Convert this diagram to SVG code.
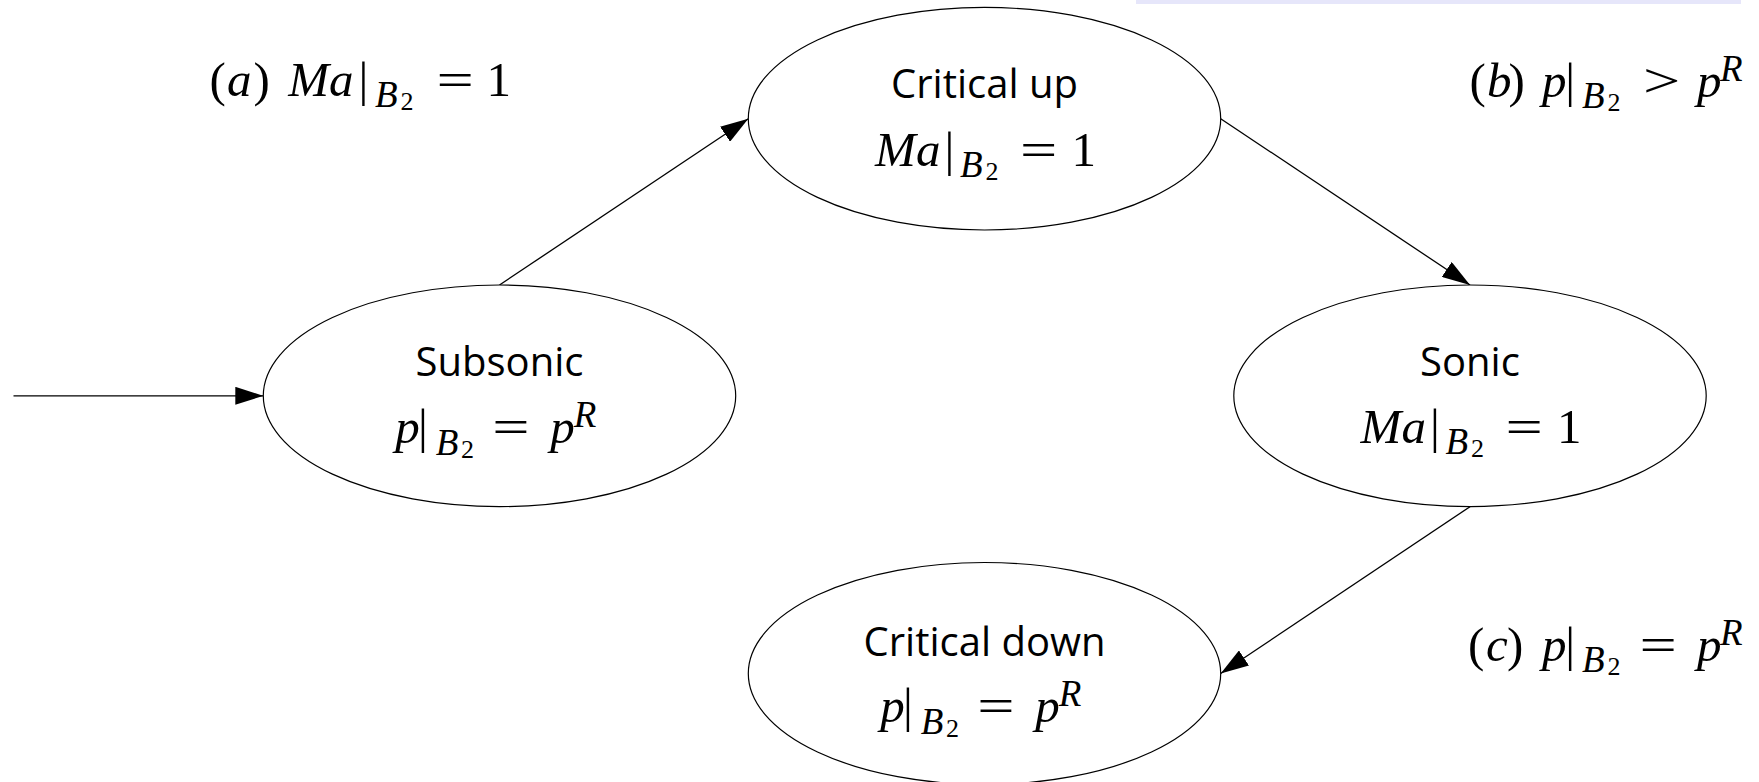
<svg xmlns="http://www.w3.org/2000/svg" width="1759" height="782" viewBox="0 0 1759 782">
<style>
.node ellipse{fill:#fff;stroke:#000;stroke-width:1.2}
.t{font-family:"Open Sans","Noto Sans",sans-serif;font-size:40px;fill:#000;text-anchor:middle}
.m{font-family:"Liberation Serif","Times New Roman",serif;font-size:49px;fill:#000}
.i{font-style:italic}
.s{font-size:37px}
.ss{font-size:26px}
.edge{stroke:#000;stroke-width:1.3;fill:none;marker-end:url(#arr)}
</style>
<defs>
<marker id="arr" markerUnits="userSpaceOnUse" markerWidth="28" markerHeight="18" viewBox="0 0 28 18" refX="28" refY="9" orient="auto">
<path d="M0,0 L28,9 L0,18 z" fill="#000"/>
</marker>
</defs>
<rect x="0" y="0" width="1759" height="782" fill="#fff"/>
<rect x="1136" y="0" width="605" height="4" fill="#e6e6fa"/>

<g id="connectors">
<path class="edge" d="M13.5,395.8 L263.3,395.8"/>
<path class="edge" d="M499.5,285 L748.3,118.7"/>
<path class="edge" d="M1220.7,118.7 L1470,285"/>
<path class="edge" d="M1470,506.7 L1220.7,673.5"/>
</g>

<g id="subsonic" class="node">
<ellipse cx="499.5" cy="395.8" rx="236.2" ry="110.8"/>
<text class="t" x="499.5" y="375.5">Subsonic</text>
<text class="m" y="442.8"><tspan class="i" x="395.3">p</tspan><tspan x="417.9">|</tspan><tspan class="i s" x="435.7" y="454.8">B</tspan><tspan class="ss" x="461" y="457.8">2</tspan><tspan class="i" x="550.3" y="442.8">p</tspan><tspan class="i s" x="573.7" y="426.8">R</tspan></text>
<text class="m" transform="translate(492.2,442.8) scale(1.35,1)">=</text>
</g>

<g id="critical-up" class="node">
<ellipse cx="984.5" cy="118.7" rx="236.2" ry="111.3"/>
<text class="t" x="984.5" y="97.8">Critical up</text>
<text class="m" y="165.7"><tspan class="i" x="875">M</tspan><tspan class="i" x="916">a</tspan><tspan x="944.5">|</tspan><tspan class="i s" x="960" y="177.2">B</tspan><tspan class="ss" x="985.5" y="180.2">2</tspan><tspan x="1071.5" y="165.7">1</tspan></text>
<text class="m" transform="translate(1020,165.7) scale(1.35,1)">=</text>
</g>

<g id="sonic" class="node">
<ellipse cx="1470" cy="395.8" rx="236.2" ry="110.8"/>
<text class="t" x="1470" y="375.5">Sonic</text>
<text class="m" y="442.8"><tspan class="i" x="1360.5">M</tspan><tspan class="i" x="1401.5">a</tspan><tspan x="1430">|</tspan><tspan class="i s" x="1445.5" y="454.3">B</tspan><tspan class="ss" x="1471" y="457.3">2</tspan><tspan x="1557" y="442.8">1</tspan></text>
<text class="m" transform="translate(1505.5,442.8) scale(1.35,1)">=</text>
</g>

<g id="critical-down" class="node">
<ellipse cx="984.5" cy="673.5" rx="236.2" ry="111"/>
<text class="t" x="984.5" y="655.5">Critical down</text>
<text class="m" y="722"><tspan class="i" x="880.3">p</tspan><tspan x="902.9">|</tspan><tspan class="i s" x="920.7" y="734">B</tspan><tspan class="ss" x="946" y="737">2</tspan><tspan class="i" x="1035.3" y="722">p</tspan><tspan class="i s" x="1058.7" y="706">R</tspan></text>
<text class="m" transform="translate(977.2,722) scale(1.35,1)">=</text>
</g>

<g id="label-a">
<text class="m" y="96"><tspan x="209.4">(</tspan><tspan class="i" x="227">a</tspan><tspan x="253.5">)</tspan><tspan class="i" x="288.3">M</tspan><tspan class="i" x="329">a</tspan><tspan x="358.5">|</tspan><tspan class="i s" x="375" y="107">B</tspan><tspan class="ss" x="400.5" y="110">2</tspan><tspan x="486.5" y="96">1</tspan></text>
<text class="m" transform="translate(436.5,96) scale(1.35,1)">=</text>
</g>

<g id="label-b">
<text class="m" y="97"><tspan x="1469.5">(</tspan><tspan class="i" x="1487">b</tspan><tspan x="1508.5">)</tspan><tspan class="i" x="1542">p</tspan><tspan x="1565.2">|</tspan><tspan class="i s" x="1582" y="108">B</tspan><tspan class="ss" x="1607.5" y="111">2</tspan><tspan class="i" x="1697" y="97">p</tspan><tspan class="i s" x="1720" y="81">R</tspan></text>
<text class="m" transform="translate(1643,97) scale(1.35,1)">&gt;</text>
</g>

<g id="label-c">
<text class="m" y="661"><tspan x="1468">(</tspan><tspan class="i" x="1486">c</tspan><tspan x="1507">)</tspan><tspan class="i" x="1542">p</tspan><tspan x="1565.2">|</tspan><tspan class="i s" x="1582" y="672">B</tspan><tspan class="ss" x="1607.5" y="675">2</tspan><tspan class="i" x="1697" y="661">p</tspan><tspan class="i s" x="1720" y="645">R</tspan></text>
<text class="m" transform="translate(1639.5,661) scale(1.35,1)">=</text>
</g>
</svg>
